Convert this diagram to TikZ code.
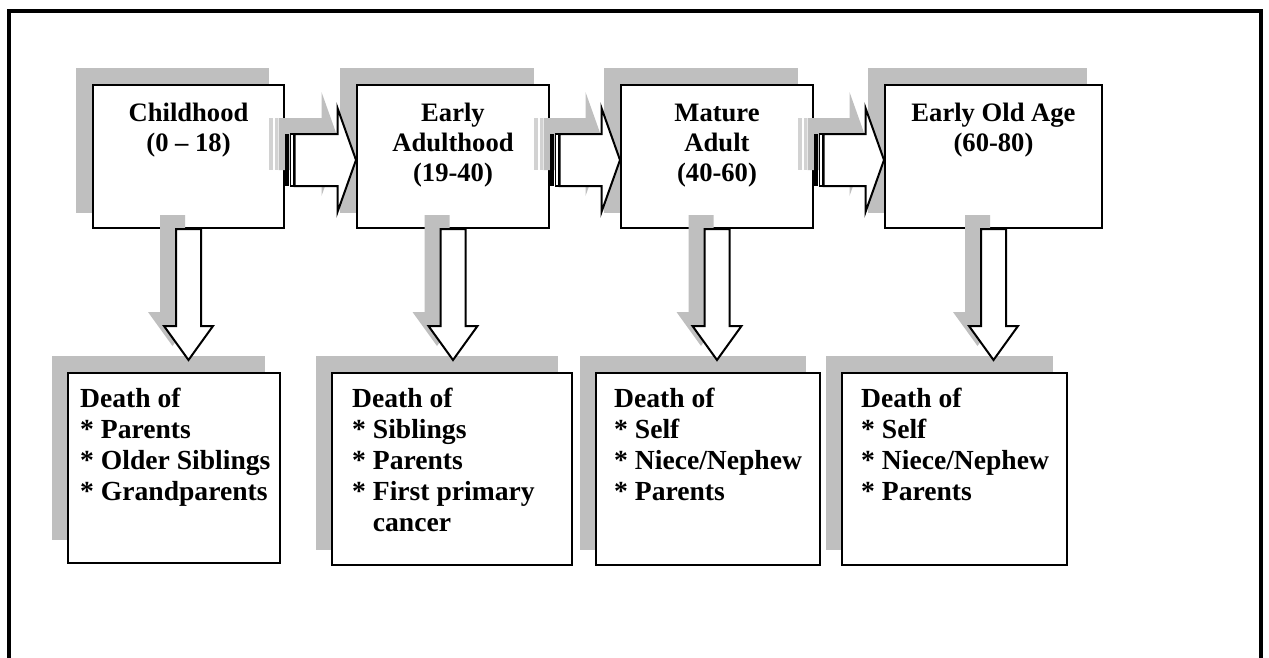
\documentclass[tikz,border=0pt]{standalone}
\usepackage{fontspec}
\setmainfont{Liberation Serif}
\usetikzlibrary{calc,backgrounds}

\tikzset{
  shade/.style={fill=gray!50, draw=none},
  lightshade/.style={fill=gray!35, draw=none},
  stagebox/.style={draw, line width=2pt, fill=white, inner sep=0pt},
  stagetext/.style={inner sep=0pt, anchor=north, align=center,
    font=\fontsize{26.6pt}{30pt}\selectfont\bfseries},
  losstext/.style={inner sep=0pt, anchor=north west, align=left,
    font=\fontsize{27.6pt}{31pt}\selectfont\bfseries},
  arrowline/.style={draw, line width=2pt, fill=white, line join=miter},
}

% striped block arrow from #1 (left end) to #2 (tip)
\newcommand\harrow[2]{%
  \fill[black] ($(#1)+(0,-26)$) rectangle ($(#1)+(4,26)$);
  \draw[line width=1.2pt, fill=white] ($(#1)+(5.8,-26)$) rectangle ($(#1)+(8.6,26)$);
  \path[arrowline] ($(#1)+(9.5,-26)$) -- ($(#2)+(-18.5,-26)$) -- ($(#2)+(-18.5,-52)$)
    -- (#2) -- ($(#2)+(-18.5,52)$) -- ($(#2)+(-18.5,26)$) -- ($(#1)+(9.5,26)$) -- cycle;
}
% its shadow
\newcommand\harrowshadow[2]{%
  \path[lightshade] ($(#1)+(0,-26)$) rectangle ($(#1)+(4,26)$);
  \path[lightshade] ($(#1)+(5.8,-26)$) rectangle ($(#1)+(8.6,26)$);
  \path[shade] ($(#1)+(9.5,-26)$) -- ($(#2)+(-18.5,-26)$) -- ($(#2)+(-18.5,-52)$)
    -- (#2) -- ($(#2)+(-18.5,52)$) -- ($(#2)+(-18.5,26)$) -- ($(#1)+(9.5,26)$) -- cycle;
}
% downward block arrow from #1 (top) to #2 (tip), style #3
\newcommand\varrow[3]{%
  \path[#3] ($(#1)+(-12.5,0)$) -- ($(#2)+(-12.5,-34)$) -- ($(#2)+(-24.5,-34)$) -- (#2)
    -- ($(#2)+(24.5,-34)$) -- ($(#2)+(12.5,-34)$) -- ($(#1)+(12.5,0)$) -- cycle;
}

\begin{document}
\begin{tikzpicture}[x=1pt,y=-1pt]
\useasboundingbox (0,0) rectangle (1269,657);

% outer frame
\draw[line width=4pt, line join=miter] (9,690) -- (9,11) -- (1261,11) -- (1261,690);

% life stages
\node[stagebox, minimum width=191pt, minimum height=143pt] (t1) at (188.5,156.5) {};
\node[stagebox, minimum width=192pt, minimum height=143pt] (t2) at (453,156.5) {};
\node[stagebox, minimum width=192pt, minimum height=143pt] (t3) at (717,156.5) {};
\node[stagebox, minimum width=217pt, minimum height=143pt] (t4) at (993.5,156.5) {};

% losses
\node[stagebox, minimum width=212pt, minimum height=190pt] (d1) at (174,468) {};
\node[stagebox, minimum width=240pt, minimum height=192pt] (d2) at (452,469) {};
\node[stagebox, minimum width=224pt, minimum height=192pt] (d3) at (708,469) {};
\node[stagebox, minimum width=225pt, minimum height=192pt] (d4) at (954.5,469) {};

% box shadows
\begin{pgfonlayer}{background}
  \foreach \n in {t1,t2,t3,t4}
    \path[shade] ($(\n.north west)+(-16,-16)$) rectangle ($(\n.south east)+(-16,-16)$);
  \foreach \n in {d2,d3,d4}
    \path[shade] ($(\n.north west)+(-15,-16)$) rectangle ($(\n.south east)+(-15,-16)$);
  \path[shade] ($(d1.north west)+(-15,-16)$) rectangle (265,540);
\end{pgfonlayer}

% stage labels
\coordinate (toprow) at (0,101);
\node[stagetext] (l1) at (t1 |- toprow) {\rule{0pt}{20pt}Childhood\\(0 – 18)};
\node[stagetext] (l2) at (t2 |- toprow) {\rule{0pt}{20pt}Early\\Adulthood\\(19-40)};
\node[stagetext] (l3) at (t3 |- toprow) {\rule{0pt}{20pt}Mature\\Adult\\(40-60)};
\node[stagetext] (l4) at (t4 |- toprow) {\rule{0pt}{20pt}Early Old Age\\(60-80)};

% loss lists
\node[losstext] (m1) at ($(d1.north west)+(13,15)$)
  {\rule{0pt}{20pt}Death of\\* Parents\\* Older Siblings\\* Grandparents};
\node[losstext] (m2) at ($(d2.north west)+(21,15)$)
  {\rule{0pt}{20pt}Death of\\* Siblings\\* Parents\\* First primary\\\hphantom{* }cancer};
\node[losstext] (m3) at ($(d3.north west)+(19,15)$)
  {\rule{0pt}{20pt}Death of\\* Self\\* Niece/Nephew\\* Parents};
\node[losstext] (m4) at ($(d4.north west)+(20,15)$)
  {\rule{0pt}{20pt}Death of\\* Self\\* Niece/Nephew\\* Parents};

% arrow anchor points
\coordinate (mid) at (0,160);
\coordinate (h1s) at (t1.east |- mid); \coordinate (h1e) at (t2.west |- mid);
\coordinate (h2s) at (t2.east |- mid); \coordinate (h2e) at (t3.west |- mid);
\coordinate (h3s) at (t3.east |- mid); \coordinate (h3e) at (t4.west |- mid);
\foreach \i in {1,2,3} {
  \coordinate (h\i ss) at ($(h\i s)+(-16,-16)$);
  \coordinate (h\i es) at ($(h\i e)+(-16,-16)$);
}
\foreach \i in {1,2,3,4} {
  \coordinate (v\i s) at (t\i.south);
  \coordinate (v\i e) at ($(t\i.south |- d\i.north)+(0,-12)$);
  \coordinate (v\i ss) at ($(v\i s)+(-16,-14)$);
  \coordinate (v\i es) at ($(v\i e)+(-16,-14)$);
}

% arrow shadows
\foreach \i in {1,2,3} { \harrowshadow{h\i ss}{h\i es} }
\foreach \i in {1,2,3,4} { \varrow{v\i ss}{v\i es}{shade} }

% arrows
\foreach \i in {1,2,3} { \harrow{h\i s}{h\i e} }
\foreach \i in {1,2,3,4} { \varrow{v\i s}{v\i e}{arrowline} }
\end{tikzpicture}
\end{document}
